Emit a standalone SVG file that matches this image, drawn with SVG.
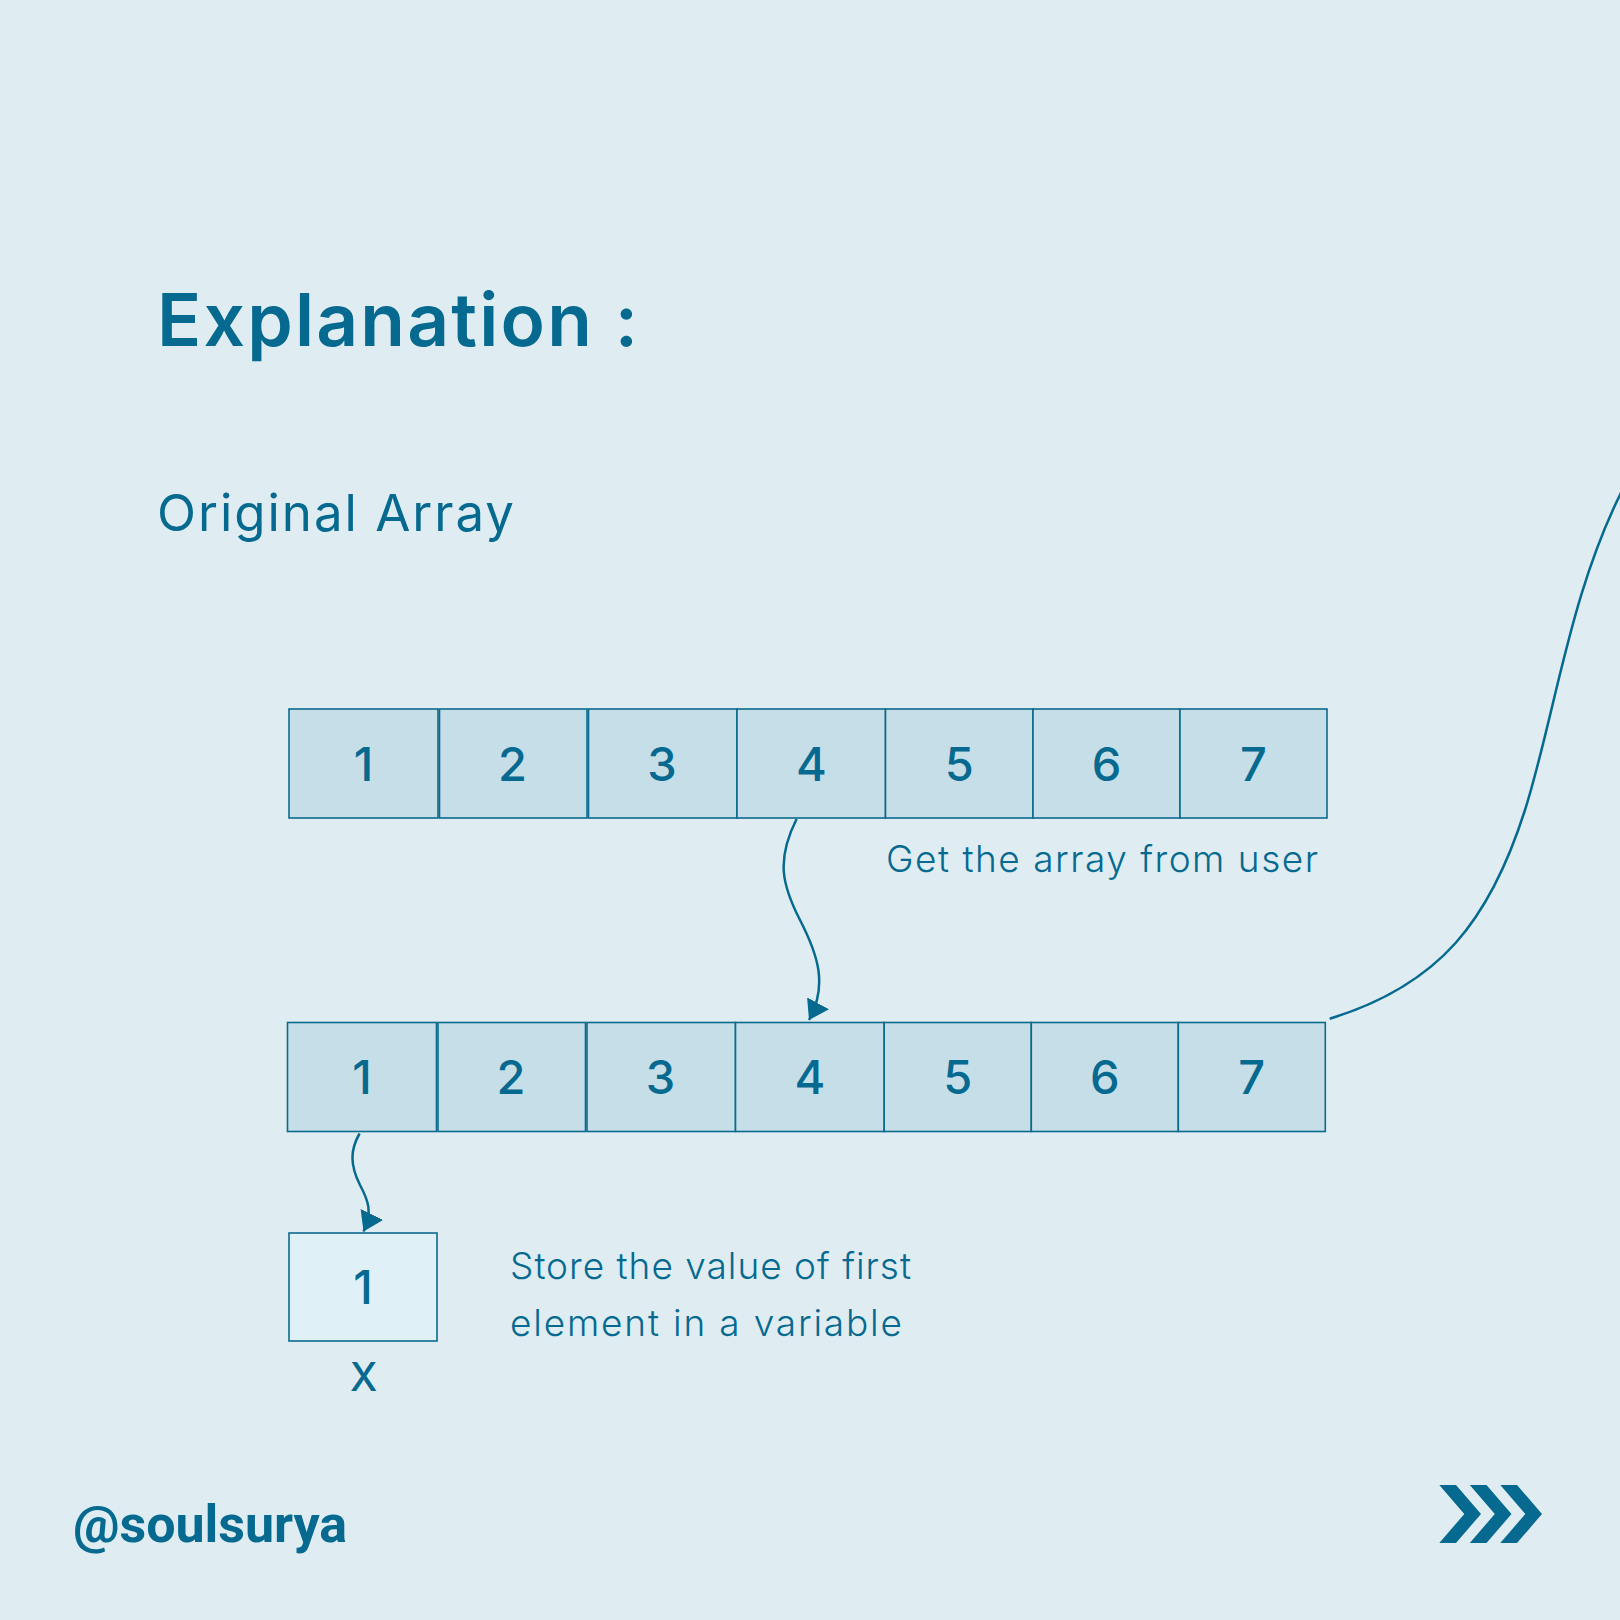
<svg xmlns="http://www.w3.org/2000/svg" width="1620" height="1620" viewBox="0 0 1620 1620">
<style>
.cell{fill:#c6dee7;stroke:#0a6a8e;stroke-width:1.6}
.var{fill:#dff1f6;stroke:#0a6a8e;stroke-width:1.6}
.dig{font-family:Inter,"Open Sans",sans-serif;font-weight:500;font-size:47px;fill:#066990;text-anchor:middle}
.lbl{font-family:Inter,"Open Sans",sans-serif;font-weight:300;font-size:37px;fill:#066990}
.con{fill:none;stroke:#066990;stroke-width:2.5}
.chev{fill:#066990}
</style>
<defs>
<marker id="arr" viewBox="0 0 19 25" refX="19" refY="12.5" markerWidth="19" markerHeight="25" markerUnits="userSpaceOnUse" orient="auto">
<path d="M0,0 L19,12.5 L0,25 z" fill="#066990"/>
</marker>
<path id="chevron" d="M1439.3,1485 L1456,1485 L1481,1514 L1456,1543 L1439.3,1543 L1464.3,1514 Z"/>
</defs>
<rect x="0" y="0" width="1620" height="1620" fill="#dfedf2"/>

<text x="157" y="346" font-family="Inter,'Open Sans',sans-serif" font-weight="600" font-size="73" fill="#066990" textLength="481" lengthAdjust="spacing">Explanation :</text>
<text x="157" y="531" font-family="Inter,'Open Sans',sans-serif" font-weight="400" font-size="51" fill="#066990" textLength="357" lengthAdjust="spacing">Original Array</text>

<g id="original-array">
<rect class="cell" x="289" y="709" width="149" height="109"/>
<rect class="cell" x="439.5" y="709" width="147.5" height="109"/>
<rect class="cell" x="588.5" y="709" width="148.5" height="109"/>
<rect class="cell" x="737" y="709" width="148.5" height="109"/>
<rect class="cell" x="885.5" y="709" width="147.5" height="109"/>
<rect class="cell" x="1033" y="709" width="147" height="109"/>
<rect class="cell" x="1180" y="709" width="147" height="109"/>
<text class="dig" x="363.5" y="781">1</text>
<text class="dig" x="512.5" y="781">2</text>
<text class="dig" x="662" y="781">3</text>
<text class="dig" x="811.3" y="781">4</text>
<text class="dig" x="959.3" y="781">5</text>
<text class="dig" x="1106.5" y="781">6</text>
<text class="dig" x="1253.5" y="781">7</text>
</g>

<text id="label-get" class="lbl" x="886" y="872" textLength="432" lengthAdjust="spacing">Get the array from user</text>

<g id="copied-array">
<rect class="cell" x="287.5" y="1022.5" width="149" height="109"/>
<rect class="cell" x="438" y="1022.5" width="147.5" height="109"/>
<rect class="cell" x="587" y="1022.5" width="148.5" height="109"/>
<rect class="cell" x="735.5" y="1022.5" width="148.7" height="109"/>
<rect class="cell" x="884.2" y="1022.5" width="147.1" height="109"/>
<rect class="cell" x="1031.3" y="1022.5" width="147" height="109"/>
<rect class="cell" x="1178.3" y="1022.5" width="147" height="109"/>
<text class="dig" x="362" y="1094">1</text>
<text class="dig" x="511" y="1094">2</text>
<text class="dig" x="660.5" y="1094">3</text>
<text class="dig" x="809.8" y="1094">4</text>
<text class="dig" x="957.8" y="1094">5</text>
<text class="dig" x="1104.8" y="1094">6</text>
<text class="dig" x="1251.8" y="1094">7</text>
</g>

<g id="variable-x">
<rect class="var" x="289" y="1233" width="148" height="108"/>
<text class="dig" x="363" y="1304">1</text>
<text x="363.7" y="1391" font-family="Inter,'Open Sans',sans-serif" font-weight="500" font-size="39" fill="#066990" text-anchor="middle">X</text>
</g>

<g id="label-store">
<text class="lbl" x="510" y="1279" textLength="401" lengthAdjust="spacing">Store the value of first</text>
<text class="lbl" x="510" y="1336" textLength="392" lengthAdjust="spacing">element in a variable</text>
</g>

<g id="connectors">
<path class="con" d="M796.6,819 C776,860 782,885 800,920 C818,955 828,985 809,1020" marker-end="url(#arr)"/>
<path class="con" d="M359.6,1133.5 C350,1150 350,1165 360,1185 C368,1200 373,1212 363.5,1231.5" marker-end="url(#arr)"/>
<path class="con" d="M1329.7,1018.7 C1440,985 1490,920 1525,810 C1555,715 1570,590 1625,485"/>
</g>

<text id="handle" x="73" y="1542" font-family="Roboto,'Liberation Sans',sans-serif" font-weight="700" font-size="52" fill="#066990" textLength="274" lengthAdjust="spacing">@soulsurya</text>

<g id="next-chevrons" class="chev">
<use href="#chevron"/>
<use href="#chevron" transform="translate(30.5,0)"/>
<use href="#chevron" transform="translate(61,0)"/>
</g>
</svg>
